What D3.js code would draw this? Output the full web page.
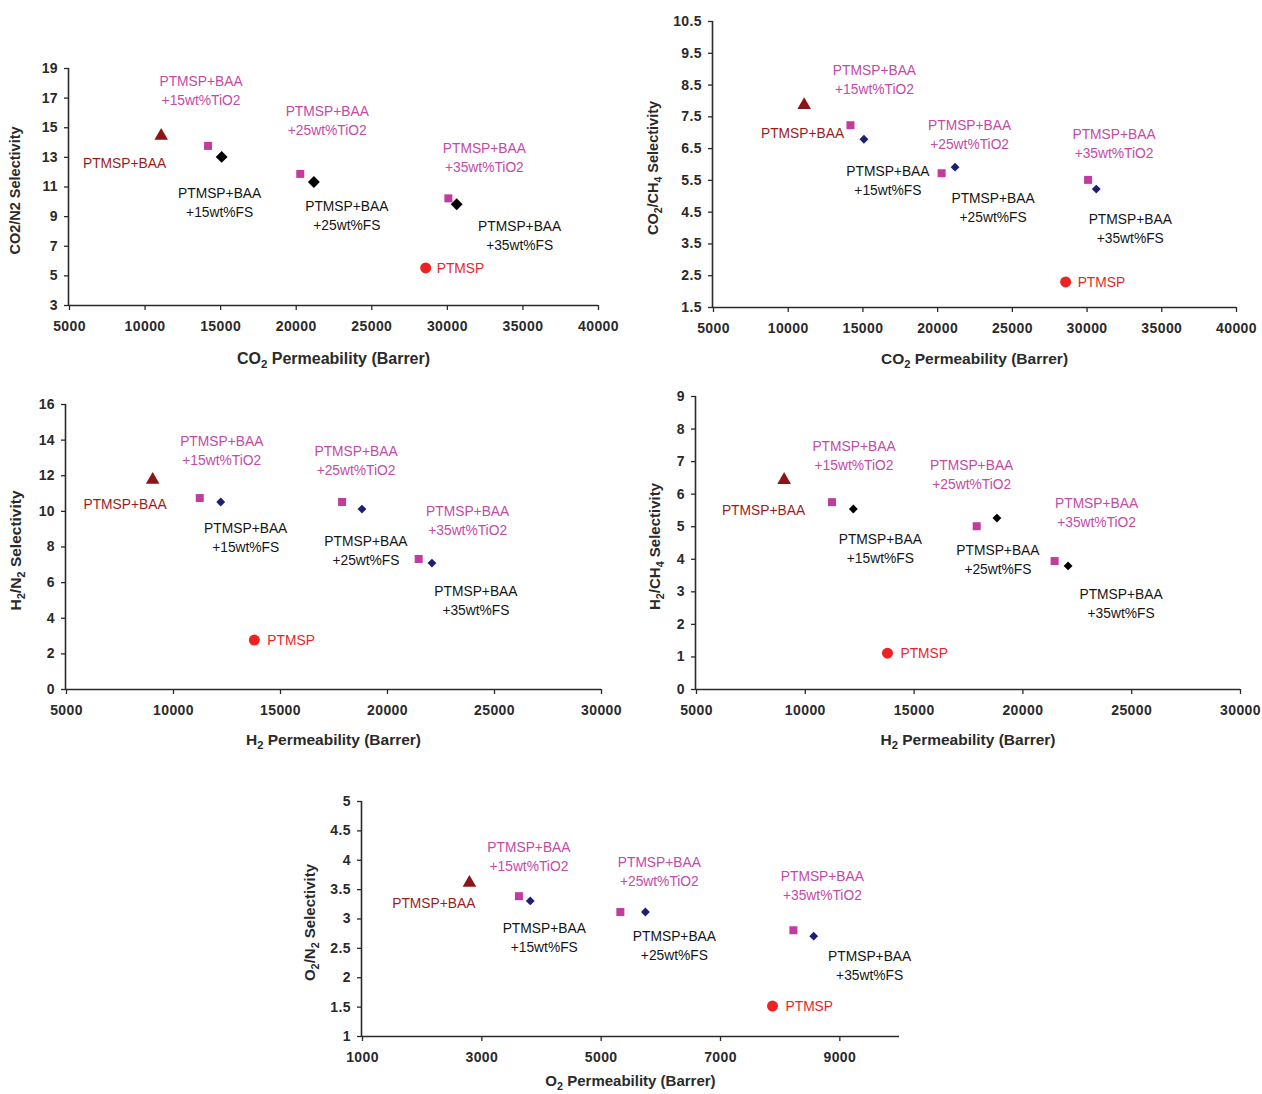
<!DOCTYPE html>
<html>
<head>
<meta charset="utf-8">
<script src="https://cdn.jsdelivr.net/npm/d3@7"></script>
<style>
  html, body { margin: 0; padding: 0; background: #fff; }
  svg { display: block; font-family: "Liberation Sans", Arial, sans-serif; }
</style>
</head>
<body>
<svg id="chart" width="1262" height="1094"></svg>
<script>
// Membrane samples, in the order used by every data array below
const samples = [
  "PTMSP",
  "PTMSP+BAA",
  "PTMSP+BAA +15wt%TiO2",
  "PTMSP+BAA +15wt%FS",
  "PTMSP+BAA +25wt%TiO2",
  "PTMSP+BAA +25wt%FS",
  "PTMSP+BAA +35wt%TiO2",
  "PTMSP+BAA +35wt%FS"
];
const sampleKind = ["pure", "blend", "tio2", "fs", "tio2", "fs", "tio2", "fs"];

// Gas permeabilities (Barrer)
const co2Permeability = [28600, 11100, 14200, 15100, 20300, 21200, 30100, 30650];
const h2Permeability  = [13800, 9050, 11250, 12230, 17900, 18830, 21480, 22100];
const o2Permeability  = [7880, 2800, 3630, 3820, 5330, 5750, 8230, 8570];

// Ideal selectivities
const co2n2Selectivity  = [5.5, 14.35, 13.74, 13.0, 11.85, 11.3, 10.2, 9.8];
const co2ch4Selectivity = [2.29, 7.82, 7.22, 6.78, 5.71, 5.9, 5.5, 5.21];
const h2n2Selectivity   = [2.75, 11.68, 10.72, 10.5, 10.5, 10.1, 7.3, 7.07];
const h2ch4Selectivity  = [1.1, 6.39, 5.74, 5.53, 5.0, 5.25, 3.93, 3.78];
const o2n2Selectivity   = [1.51, 3.59, 3.38, 3.3, 3.11, 3.11, 2.8, 2.7];

// Axis ticks
const co2Ticks = [5000, 10000, 15000, 20000, 25000, 30000, 35000, 40000];
const h2Ticks = [5000, 10000, 15000, 20000, 25000, 30000];
const o2Ticks = [1000, 3000, 5000, 7000, 9000];
const co2n2Ticks = [3, 5, 7, 9, 11, 13, 15, 17, 19];
const co2ch4Ticks = [1.5, 2.5, 3.5, 4.5, 5.5, 6.5, 7.5, 8.5, 9.5, 10.5];
const h2n2Ticks = [0, 2, 4, 6, 8, 10, 12, 14, 16];
const h2ch4Ticks = [0, 1, 2, 3, 4, 5, 6, 7, 8, 9];
const o2n2Ticks = [1, 1.5, 2, 2.5, 3, 3.5, 4, 4.5, 5];

// Panel layout: plot box, domains, titles and label offsets (px from each marker)
const panels = [
  {
    box: [69, 598, 68, 305], xDomain: [5000, 40000], yDomain: [3, 19],
    x: co2Permeability, y: co2n2Selectivity, xTicks: co2Ticks, yTicks: co2n2Ticks,
    xTitle: [["CO", false], ["2", true], [" Permeability (Barrer)", false]], xTitleSize: 16, xTitleY: 59,
    yTitle: [["CO2/N2 Selectivity", false]], yTitleX: 20, yTitleSize: 14.5,
    diamond: { color: "#000", size: 90 },
    offsets: [[11, 0], [5, 26], [-7, -65], [-2, 36], [27, -63], [33, 24], [36, -50], [63, 22]]
  },
  {
    box: [713, 1236, 21, 307], xDomain: [5000, 40000], yDomain: [1.5, 10.5],
    x: co2Permeability, y: co2ch4Selectivity, xTicks: co2Ticks, yTicks: co2ch4Ticks,
    xTitle: [["CO", false], ["2", true], [" Permeability (Barrer)", false]], xTitleSize: 15.5, xTitleY: 57,
    yTitle: [["CO", false], ["2", true], ["/CH", false], ["4", true], [" Selectivity", false]], yTitleX: 658, yTitleSize: 14.5,
    diamond: { color: "#1e1e78", size: 50 },
    offsets: [[12, 0], [40, 27], [24, -55], [24, 32], [28, -48], [38, 31], [26, -46], [34, 30]]
  },
  {
    box: [66, 601, 404, 689], xDomain: [5000, 30000], yDomain: [0, 16],
    x: h2Permeability, y: h2n2Selectivity, xTicks: h2Ticks, yTicks: h2n2Ticks,
    xTitle: [["H", false], ["2", true], [" Permeability (Barrer)", false]], xTitleSize: 15.5, xTitleY: 56,
    yTitle: [["H", false], ["2", true], ["/N", false], ["2", true], [" Selectivity", false]], yTitleX: 21, yTitleSize: 15.5,
    diamond: { color: "#1e1e78", size: 50 },
    offsets: [[13, 0], [14, 23], [22, -57], [25, 26], [14, -51], [4, 32], [49, -48], [44, 28]]
  },
  {
    box: [696, 1240, 396, 689], xDomain: [5000, 30000], yDomain: [0, 9],
    x: h2Permeability, y: h2ch4Selectivity, xTicks: h2Ticks, yTicks: h2ch4Ticks,
    xTitle: [["H", false], ["2", true], [" Permeability (Barrer)", false]], xTitleSize: 15.5, xTitleY: 56,
    yTitle: [["H", false], ["2", true], ["/CH", false], ["4", true], [" Selectivity", false]], yTitleX: 660, yTitleSize: 15,
    diamond: { color: "#000", size: 50 },
    offsets: [[13, 0], [21, 29], [22, -56], [27, 30], [-5, -61], [1, 32], [42, -58], [53, 28]]
  },
  {
    box: [362, 899, 801, 1036], xDomain: [1000, 10000], yDomain: [1, 5],
    x: o2Permeability, y: o2n2Selectivity, xTicks: o2Ticks, yTicks: o2n2Ticks,
    xTitle: [["O", false], ["2", true], [" Permeability (Barrer)", false]], xTitleSize: 15, xTitleY: 50,
    yTitle: [["O", false], ["2", true], ["/N", false], ["2", true], [" Selectivity", false]], yTitleX: 315, yTitleSize: 15,
    diamond: { color: "#1e1e78", size: 50 },
    offsets: [[13, 0], [6, 19], [10, -49], [14, 27], [39, -50], [29, 24], [29, -54], [56, 20]]
  }
];

const labelColor = { pure: "#e8262a", blend: "#9c1c1c", tio2: "#c44aa6", fs: "#151515" };
const svg = d3.select("#chart");

// Writes a title made of plain runs and subscript runs
function writeRich(textSel, parts, size) {
  let prevSub = false;
  parts.forEach(([s, sub]) => {
    const t = textSel.append("tspan").text(s);
    if (sub) t.attr("font-size", size * 0.72).attr("dy", 3.5);
    else if (prevSub) t.attr("dy", -3.5);
    prevSub = sub;
  });
}

panels.forEach(p => {
  const [x0, x1, top, bottom] = p.box;
  const xs = d3.scaleLinear().domain(p.xDomain).range([x0, x1]);
  const ys = d3.scaleLinear().domain(p.yDomain).range([bottom, top]);
  const g = svg.append("g");

  // axes
  const xAxis = d3.axisBottom(xs).tickValues(p.xTicks).tickSize(5).tickPadding(11).tickFormat(d3.format("d"));
  const yAxis = d3.axisLeft(ys).tickValues(p.yTicks).tickSize(5).tickPadding(6).tickFormat(d => String(d));
  const gx = g.append("g").attr("transform", `translate(0,${bottom})`).call(xAxis);
  const gy = g.append("g").attr("transform", `translate(${x0},0)`).call(yAxis);
  [gx, gy].forEach(a => {
    a.select(".domain").attr("stroke", "#2a2a2a").attr("stroke-width", 1.6);
    a.selectAll(".tick line").attr("stroke", "#2a2a2a").attr("stroke-width", 1.3);
    a.selectAll(".tick text").attr("fill", "#2a2a2a").attr("font-size", 14)
      .attr("font-weight", "bold").attr("letter-spacing", 0.4)
      .attr("font-family", "Liberation Sans, Arial, sans-serif");
  });
  gx.select(".domain").attr("d", `M${x0},0.5H${x1}`);
  gy.select(".domain").attr("d", `M-0.5,${bottom}V${top}`);

  // axis titles
  const xt = g.append("text").attr("x", (x0 + x1) / 2).attr("y", bottom + p.xTitleY)
    .attr("text-anchor", "middle").attr("font-size", p.xTitleSize).attr("font-weight", "bold").attr("fill", "#2a2a2a");
  writeRich(xt, p.xTitle, p.xTitleSize);
  const yt = g.append("text")
    .attr("transform", `translate(${p.yTitleX},${(top + bottom) / 2 + 4}) rotate(-90)`)
    .attr("text-anchor", "middle").attr("font-size", p.yTitleSize).attr("font-weight", "bold")
    .attr("fill", "#2a2a2a");
  writeRich(yt, p.yTitle, p.yTitleSize);

  // markers
  const pts = samples.map((s, i) => ({ s, kind: sampleKind[i], x: p.x[i], y: p.y[i], off: p.offsets[i] }));
  pts.forEach(d => {
    const cx = xs(d.x), cy = ys(d.y);
    if (d.kind === "pure") {
      g.append("circle").attr("cx", cx).attr("cy", cy).attr("r", 5.5).attr("fill", "#ee2222");
    } else if (d.kind === "blend") {
      g.append("path").attr("d", d3.symbol(d3.symbolTriangle, 80)())
        .attr("transform", `translate(${cx},${cy - 1})`).attr("fill", "#8b1414");
    } else if (d.kind === "tio2") {
      g.append("rect").attr("x", cx - 4).attr("y", cy - 4).attr("width", 8).attr("height", 8).attr("fill", "#c23c9e");
    } else {
      g.append("path").attr("d", d3.symbol(d3.symbolDiamond2, p.diamond.size)())
        .attr("transform", `translate(${cx},${cy})`)
        .attr("fill", p.diamond.color);
    }

    // data labels
    const lx = cx + d.off[0], ly = cy + d.off[1];
    const lines = d.kind === "pure" || d.kind === "blend" ? [d.s] : d.s.split(" ");
    const anchor = d.kind === "pure" ? "start" : d.kind === "blend" ? "end" : "middle";
    lines.forEach((line, k) => {
      g.append("text").attr("x", lx).attr("y", ly + k * 19).attr("dy", "0.35em")
        .attr("text-anchor", anchor).attr("font-size", 13.8)
        .attr("fill", labelColor[d.kind]).text(line);
    });
  });
});
</script>
</body>
</html>
